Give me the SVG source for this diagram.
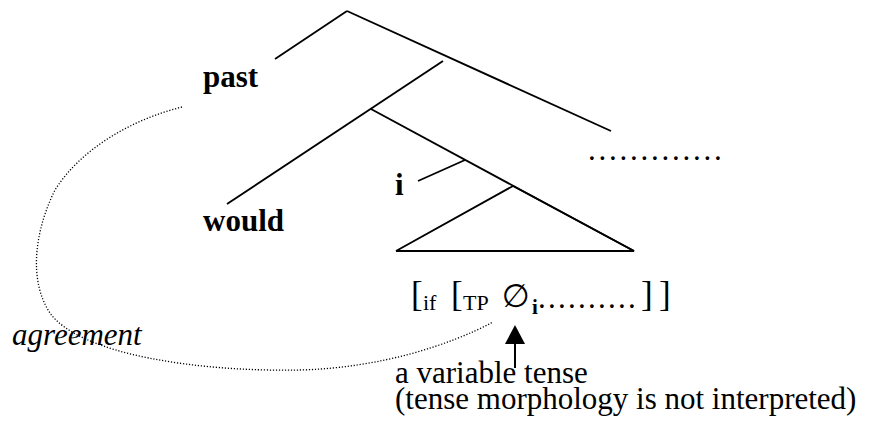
<svg xmlns="http://www.w3.org/2000/svg" width="874" height="426" viewBox="0 0 874 426">
<style>
.ln{stroke:#000;stroke-width:1.9;fill:none;stroke-linecap:butt}
.t{font-family:"Liberation Serif","Times New Roman",serif;fill:#000}
.b{font-weight:bold;font-size:31px}
.r{font-size:31px}
.s{font-size:22px}
.br{font-size:35px}
.agr{stroke:#000;stroke-width:1.3;fill:none;stroke-dasharray:1.2 1.8}
</style>
<g id="connectors">
<line class="ln" x1="347" y1="11" x2="275" y2="59"/>
<line class="ln" x1="347" y1="11" x2="611" y2="131"/>
<line class="ln" x1="443" y1="61" x2="227" y2="204"/>
<line class="ln" x1="371" y1="109" x2="634" y2="251"/>
<line class="ln" x1="465" y1="160" x2="418" y2="181"/>
<polyline class="ln" points="396,251 513,186 634,251 396,251"/>
<path class="agr" d="M182,107 C130,120 80,150 55,190 C35,230 28,280 50,313 C80,355 200,372 300,370 C380,368 450,345 493,322"/>
<line x1="515" y1="368" x2="515" y2="343" stroke="#000" stroke-width="2"/>
<path d="M505,344 L515,325 L525,344 Z" fill="#000"/>
</g>
<g id="node-past"><text class="t b" x="203" y="87">past</text></g>
<g id="node-would"><text class="t b" x="203" y="231">would</text></g>
<g id="node-i"><text class="t b" x="395" y="195">i</text></g>
<g id="node-dots"><text class="t r" x="588" y="160" letter-spacing="2.75">.............</text></g>
<g id="node-if">
<text class="t" y="306"><tspan class="br" x="411" y="306">[</tspan><tspan class="s" x="423" y="310">if</tspan><tspan class="br" x="451" y="306">[</tspan><tspan class="s" x="463" y="310">TP</tspan><tspan x="502" y="307" style="font-family:'DejaVu Sans',sans-serif;font-size:32px">∅</tspan><tspan x="532" y="314" style="font-weight:bold;font-size:21px">i</tspan><tspan class="r" x="538" y="308" letter-spacing="2.25">..........</tspan><tspan class="br" x="641" y="306">]</tspan><tspan class="br" x="659" y="306">]</tspan></text>
</g>
<g id="node-agreement"><text class="t r" x="12" y="345" font-style="italic">agreement</text></g>
<g id="node-variable">
<text class="t r"><tspan x="395" y="383">a variable tense</tspan><tspan x="395" y="409">(tense morphology is not interpreted)</tspan></text>
</g>
</svg>
